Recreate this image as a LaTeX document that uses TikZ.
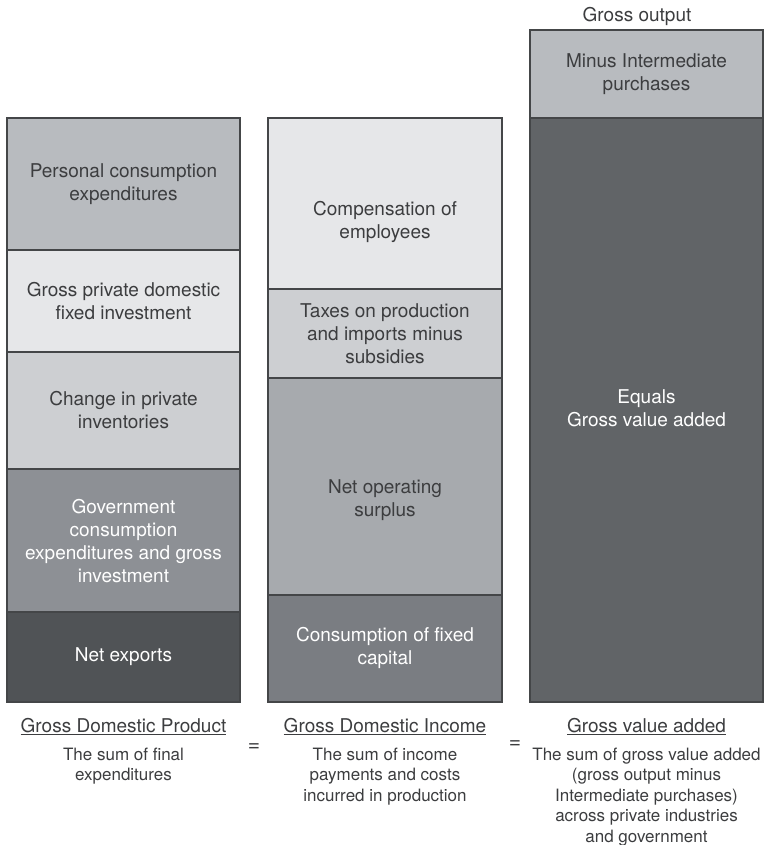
\documentclass[tikz,border=0pt]{standalone}
\usepackage{fontspec}
\setmainfont{TeX Gyre Heros}
\usepackage{tikz}
\definecolor{edge}{HTML}{444648}
\definecolor{ink}{HTML}{3C3D3F}
\definecolor{shadeA}{HTML}{B8BBBF}
\definecolor{shadeB}{HTML}{E6E7E9}
\definecolor{shadeC}{HTML}{CDCFD2}
\definecolor{shadeD}{HTML}{A7AAAE}
\definecolor{shadeE}{HTML}{8D9095}
\definecolor{shadeF}{HTML}{7A7D82}
\definecolor{shadeG}{HTML}{616467}
\definecolor{shadeH}{HTML}{505356}
\tikzset{
  bar/.style={draw=edge, line width=1.3pt},
  lab/.style={text=ink, font=\fontsize{19}{23}\selectfont, align=center},
  labw/.style={lab, text=white},
  head/.style={text=ink, font=\fontsize{19}{23}\selectfont},
  note/.style={text=ink, font=\fontsize{17}{20.5}\selectfont, align=center},
  eq/.style={text=ink, font=\fontsize{21}{23}\selectfont},
}
\begin{document}
\begin{tikzpicture}[x=1pt,y=-1pt]
\useasboundingbox (0,0) rectangle (764,845);

% final expenditures
\draw[bar, fill=shadeA] (7,118) rectangle (240,250);
\draw[bar, fill=shadeB] (7,250) rectangle (240,352);
\draw[bar, fill=shadeC] (7,352) rectangle (240,469);
\draw[bar, fill=shadeE] (7,469) rectangle (240,612);
\draw[bar, fill=shadeH] (7,612) rectangle (240,702);
\node[lab] (pce) at (123.5,184) {Personal consumption\\expenditures};
\node[lab] (gpdi) at (123.5,301) {Gross private domestic\\fixed investment};
\node[lab] (cipi) at (123.5,410) {Change in private\\inventories};
\node[labw] (gov) at (123.5,541) {Government\\consumption\\expenditures and gross\\investment};
\node[labw] (nx) at (123.5,657) {Net exports};

% income side
\draw[bar, fill=shadeB] (268,118) rectangle (502,289);
\draw[bar, fill=shadeC] (268,289) rectangle (502,378);
\draw[bar, fill=shadeD] (268,378) rectangle (502,595);
\draw[bar, fill=shadeF] (268,595) rectangle (502,702);
\node[lab] (comp) at (385,222) {Compensation of\\employees};
\node[lab] (tax) at (385,334) {Taxes on production\\and imports minus\\subsidies};
\node[lab] (nos) at (385,500) {Net operating\\surplus};
\node[labw] (cfc) at (385,648) {Consumption of fixed\\capital};

% production side
\draw[bar, fill=shadeA] (530,30) rectangle (763,118);
\draw[bar, fill=shadeG] (530,118) rectangle (763,702);
\node[head] (go) at (637,16) {Gross output};
\node[lab] (ip) at (646.5,74) {Minus Intermediate\\purchases};
\node[labw] (gva) at (646.5,408) {Equals\\Gross value added};

% captions
\node[head] (gdp) at (123.5,727) {\underline{Gross Domestic Product}};
\node[head] (gdi) at (385,727) {\underline{Gross Domestic Income}};
\node[head] (gvat) at (646.5,727) {\underline{Gross value added}};
\node[note] (gdpn) at (123.5,766) {The sum of final\\expenditures};
\node[note] (gdin) at (385,776.5) {The sum of income\\payments and costs\\incurred in production};
\node[note] (gvan) at (646.5,797) {The sum of gross value added\\(gross output minus\\Intermediate purchases)\\across private industries\\and government};
\node[eq] (eqa) at (254,748) {=};
\node[eq] (eqb) at (515,745) {=};
\end{tikzpicture}
\end{document}
